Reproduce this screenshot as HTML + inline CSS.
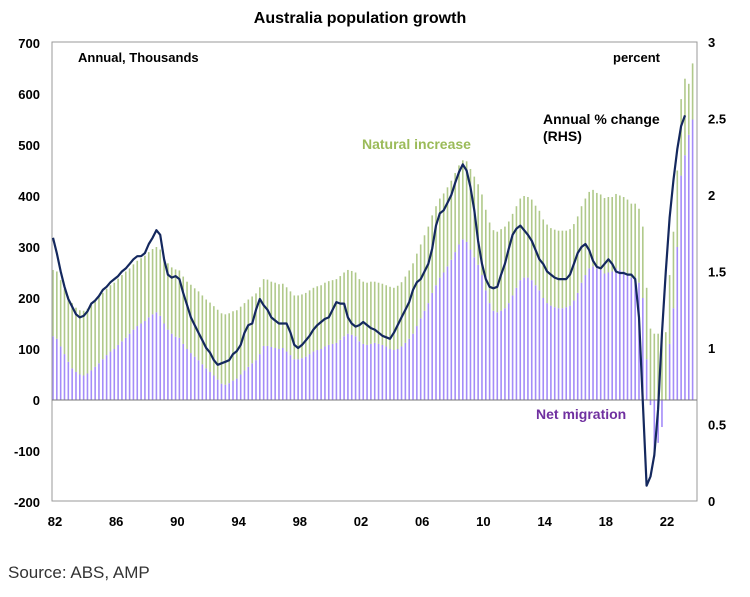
<!DOCTYPE html>
<html><head><meta charset="utf-8"><style>
body{margin:0;background:#fff;width:750px;height:592px;overflow:hidden;font-family:"Liberation Sans",Arial,sans-serif}
svg text{font-family:"Liberation Sans",Arial,sans-serif}
</style></head><body>
<svg id="chart" width="750" height="592">
<text x="360" y="23" text-anchor="middle" font-size="16" font-weight="bold">Australia population growth</text>
<g id="bars"></g>
<rect x="52" y="42" width="645" height="459" fill="none" stroke="#999" stroke-width="1"/>
<line x1="52" x2="697" y1="400" y2="400" stroke="#777" stroke-width="1"/>
<path id="growth" fill="none" stroke="#14285e" stroke-width="2.2" stroke-linejoin="round"/>
<g id="ticks" font-size="13" font-weight="bold"></g>
<text x="78" y="62" font-size="13" font-weight="bold">Annual, Thousands</text>
<text x="613" y="62" font-size="13" font-weight="bold">percent</text>
<text x="362" y="149" font-size="14" font-weight="bold" fill="#9bbb59">Natural increase</text>
<text x="543" y="124" font-size="14" font-weight="bold">Annual % change</text>
<text x="543" y="141" font-size="14" font-weight="bold">(RHS)</text>
<text x="536" y="419" font-size="14" font-weight="bold" fill="#7030a0">Net migration</text>
<text x="8" y="578" font-size="17" fill="#333">Source: ABS, AMP</text>
</svg>
<script>
const migration=[125,120,105,90,75,62,55,50,48,52,58,65,72,80,88,95,100,108,115,122,130,138,145,150,155,162,168,172,165,150,138,130,124,122,110,100,92,85,78,70,62,55,48,40,32,30,33,38,42,50,58,65,72,78,90,106,106,104,102,100,102,95,88,80,80,82,85,90,95,98,100,105,108,110,112,118,125,130,128,125,115,110,108,110,112,110,108,105,100,98,100,105,112,120,130,145,160,175,190,210,225,240,250,262,275,290,305,315,310,295,280,265,245,215,190,175,172,175,180,190,205,220,235,240,240,235,225,215,200,190,185,182,180,180,182,185,195,210,230,245,258,262,258,255,248,250,252,258,255,252,248,240,240,230,200,80,-10,-112,-84,-53,0,110,180,300,440,480,520,550];
const natural=[130,132,130,128,128,128,126,126,127,127,128,128,130,130,130,130,130,130,130,130,128,128,128,128,128,128,128,128,130,130,130,130,132,132,132,132,134,134,135,135,135,136,136,137,138,138,137,136,134,133,132,132,131,131,131,131,130,128,128,127,126,126,125,125,125,125,125,125,125,125,125,125,125,125,125,125,125,125,125,125,122,122,122,122,120,120,120,120,122,122,124,126,130,134,138,142,145,148,150,152,155,155,155,155,155,155,155,155,158,158,158,158,158,158,158,158,158,160,160,160,160,160,160,160,158,158,156,156,154,154,152,152,152,152,150,150,150,150,150,150,150,150,148,148,148,148,146,146,146,146,145,145,145,145,140,140,140,130,130,131,133,135,150,150,150,150,100,110,100,110];
const growth=[1.72,1.62,1.50,1.40,1.32,1.27,1.22,1.20,1.21,1.24,1.29,1.31,1.34,1.38,1.40,1.43,1.45,1.47,1.50,1.52,1.55,1.58,1.60,1.60,1.62,1.68,1.72,1.77,1.74,1.58,1.48,1.46,1.47,1.45,1.36,1.28,1.20,1.15,1.10,1.05,1.00,0.97,0.92,0.89,0.90,0.91,0.92,0.96,0.98,1.02,1.10,1.15,1.16,1.25,1.32,1.28,1.25,1.20,1.18,1.16,1.16,1.16,1.10,1.02,1.00,1.02,1.05,1.08,1.12,1.15,1.17,1.19,1.20,1.25,1.30,1.29,1.29,1.20,1.16,1.14,1.15,1.17,1.15,1.13,1.12,1.10,1.08,1.07,1.06,1.10,1.15,1.20,1.25,1.30,1.38,1.43,1.45,1.50,1.55,1.65,1.80,1.88,1.90,1.95,2.00,2.08,2.15,2.20,2.16,2.05,1.90,1.70,1.55,1.45,1.40,1.39,1.40,1.48,1.55,1.65,1.74,1.78,1.80,1.77,1.74,1.70,1.64,1.58,1.55,1.50,1.48,1.46,1.45,1.45,1.45,1.48,1.55,1.62,1.66,1.68,1.64,1.57,1.53,1.52,1.55,1.58,1.55,1.50,1.49,1.49,1.48,1.48,1.45,1.20,0.65,0.10,0.16,0.30,0.60,1.10,1.50,1.85,2.10,2.30,2.45,2.52];
const leftTicks=[-200,-100,0,100,200,300,400,500,600,700];
const rightTicks=["0","0.5","1","1.5","2","2.5","3"];
const xTickLabels=["82","86","90","94","98","02","06","10","14","18","22"];
const startYear=1982;
const NS='http://www.w3.org/2000/svg';
function yL(v){return 400-v*0.51;}
function yR(v){return 501-v*153;}
function xT(t){return 55+(t-startYear)*15.3;}
function xQ(i){return 53+i*3.83;}
const bars=document.getElementById('bars');
function mk(tag,attrs,parent){const e=document.createElementNS(NS,tag);for(const k in attrs)e.setAttribute(k,attrs[k]);parent.appendChild(e);return e;}
for(let i=0;i<migration.length;i++){
  const x=xQ(i), m=migration[i], n=natural[i];
  const p=mk('rect',{x:x-0.8,width:1.6,y:Math.min(yL(0),yL(m)),height:Math.abs(yL(m)-yL(0)),fill:'#a48cf8'},bars);
  
  
  const base=Math.max(m,0);
  const g=mk('rect',{x:x-0.8,width:1.6,y:yL(base+n),height:yL(base)-yL(base+n),fill:'#b0c98a'},bars);
  
  
}
document.getElementById('growth').setAttribute('d',growth.map((v,i)=>(i?'L':'M')+xQ(i).toFixed(1)+','+yR(v).toFixed(1)).join(''));
const tk=document.getElementById('ticks');
leftTicks.forEach(v=>{const t=mk('text',{x:40,y:yL(v)+5,'text-anchor':'end'},tk);t.textContent=v;
  
  });
rightTicks.forEach(v=>{const t=mk('text',{x:708,y:yR(parseFloat(v))+5},tk);t.textContent=v;
  
  });
xTickLabels.forEach((l,k)=>{const t=mk('text',{x:xT(startYear+k*4),y:526,'text-anchor':'middle'},tk);t.textContent=l;
  
  });
</script>
</body></html>
